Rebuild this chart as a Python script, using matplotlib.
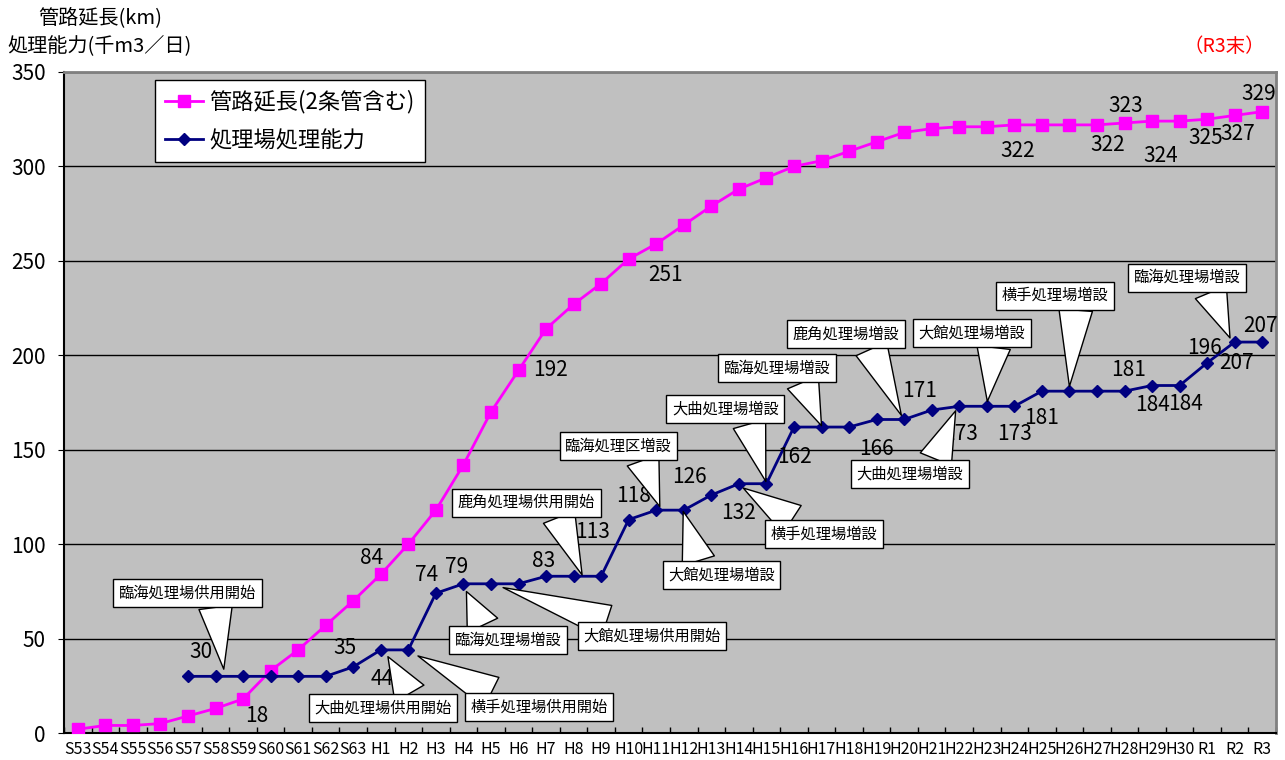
import numpy as np
import matplotlib
matplotlib.use('Agg')
import matplotlib.pyplot as plt

plt.rcParams['font.family'] = ['Noto Sans CJK JP', 'DejaVu Sans']

# 年度 (S53 ～ R3)
years = ['S53', 'S54', 'S55', 'S56', 'S57', 'S58', 'S59', 'S60', 'S61', 'S62', 'S63',
         'H1', 'H2', 'H3', 'H4', 'H5', 'H6', 'H7', 'H8', 'H9', 'H10',
         'H11', 'H12', 'H13', 'H14', 'H15', 'H16', 'H17', 'H18', 'H19', 'H20',
         'H21', 'H22', 'H23', 'H24', 'H25', 'H26', 'H27', 'H28', 'H29', 'H30',
         'R1', 'R2', 'R3']

# 管路延長 (km)
pipe_km = [2, 4, 4, 5, 9, 13, 18, 33, 44, 57, 70,
           84, 100, 118, 142, 170, 192, 214, 227, 238, 251,
           259, 269, 279, 288, 294, 300, 303, 308, 313, 318,
           320, 321, 321, 322, 322, 322, 322, 323, 324, 324,
           325, 327, 329]

# 処理場処理能力 (千m3/日)
capacity = [None, None, None, None, 30, 30, 30, 30, 30, 30, 35,
            44, 44, 74, 79, 79, 79, 83, 83, 83, 113,
            118, 118, 126, 132, 132, 162, 162, 162, 166, 166,
            171, 173, 173, 173, 181, 181, 181, 181, 184, 184,
            196, 207, 207]

# 数値ラベルを付ける年度と表示位置のずらし量 (px, 下向き正)
pipe_labels = {'S59': (14, 17), 'H1': (-9, -16), 'H6': (32, 0), 'H10': (37, 16),
               'H24': (3, 26), 'H27': (11, 20), 'H28': (1, -17), 'H29': (9, 35),
               'R1': (-1, 19), 'R2': (3, 19), 'R3': (-3, -18)}
cap_labels = {'S57': (13, -24), 'S63': (-8, -19), 'H1': (1, 29), 'H3': (-9, -18),
              'H4': (-7, -17), 'H7': (-2, -15), 'H10': (-36, 12), 'H11': (-23, -14),
              'H13': (-22, -18), 'H14': (0, 29), 'H16': (0, 30), 'H19': (0, 30),
              'H21': (-12, -19), 'H22': (1, 28), 'H24': (0, 28), 'H25': (0, 27),
              'H28': (4, -21), 'H29': (0, 19), 'H30': (6, 18), 'R1': (-3, -15),
              'R2': (2, 21), 'R3': (-2, -16)}

# 吹き出し: 文言, 吹き出し中心(x, y), 先端(x, y), 付け根位置
callouts = [
    ('臨海処理場供用開始', (3.98, 74.2), (5.30, 33.8), (0.70, 0)),
    ('大曲処理場供用開始', (11.07, 13.2), (11.26, 40.4), (0.72, 1)),
    ('横手処理場供用開始', (16.75, 13.8), (12.35, 40.8), (0.24, 1)),
    ('臨海処理場増設', (15.61, 49.3), (14.11, 74.9), (0.29, 1)),
    ('大館処理場供用開始', (20.86, 51.4), (15.44, 77.0), (0.30, 1)),
    ('鹿角処理場供用開始', (16.29, 122.0), (18.31, 83.7), (0.72, 0)),
    ('臨海処理区増設', (19.63, 152.1), (21.13, 119.9), (0.71, 0)),
    ('大館処理場増設', (23.37, 83.5), (21.98, 117.3), (0.30, 1)),
    ('大曲処理場増設', (23.51, 171.3), (24.98, 133.2), (0.71, 0)),
    ('横手処理場増設', (27.08, 105.3), (24.16, 129.7), (0.29, 1)),
    ('臨海処理場増設', (25.38, 193.4), (27.00, 162.7), (0.72, 0)),
    ('鹿角処理場増設', (27.90, 211.1), (29.90, 168.2), (0.71, 0)),
    ('大館処理場増設', (32.46, 211.8), (33.02, 175.6), (0.71, 0)),
    ('大曲処理場増設', (30.21, 137.3), (31.87, 170.6), (0.72, 1)),
    ('横手処理場増設', (35.47, 231.6), (36.00, 183.5), (0.70, 0)),
    ('臨海処理場増設', (40.27, 241.1), (41.83, 209.2), (0.70, 0)),
]

x = np.arange(len(years))
cap = np.array([np.nan if v is None else v for v in capacity], dtype=float)

fig = plt.figure(figsize=(12.85, 7.6), dpi=100)
ax = fig.add_axes([64 / 1285, 27 / 760, 1212 / 1285, 661 / 760])
ax.set_facecolor('#C0C0C0')

ax.plot(x, pipe_km, color='#FF00FF', lw=2, marker='s', ms=8, mec='#FF00FF',
        label='管路延長(2条管含む)', zorder=3)
ax.plot(x, cap, color='#000080', lw=2, marker='D', ms=6, mec='#000080',
        label='処理場処理能力', zorder=3)

for key, (dx, dy) in pipe_labels.items():
    i = years.index(key)
    ax.annotate(str(pipe_km[i]), (i, pipe_km[i]), xytext=(dx, -dy),
                textcoords='offset pixels', ha='center', va='center',
                fontsize=15, zorder=4)
for key, (dx, dy) in cap_labels.items():
    i = years.index(key)
    ax.annotate(str(int(cap[i])), (i, cap[i]), xytext=(dx, -dy),
                textcoords='offset pixels', ha='center', va='center',
                fontsize=15, zorder=4)

for text, box, tip, rel in callouts:
    ax.annotate(text, tip, xytext=box, textcoords='data',
                ha='center', va='center', fontsize=11, zorder=6,
                bbox=dict(boxstyle='square,pad=0.36', fc='white', ec='black', lw=1),
                arrowprops=dict(arrowstyle='wedge,tail_width=2.2,shrink_factor=0.5',
                                fc='white', ec='black', lw=1, relpos=rel,
                                shrinkA=0, shrinkB=0))

ax.set_xlim(-0.5, len(years) - 0.5)
ax.set_ylim(0, 350)
ax.set_yticks(range(0, 351, 50))
ax.set_xticks(x)
ax.set_xticklabels(years, fontsize=11.5)
ax.set_yticklabels([str(v) for v in range(0, 351, 50)], fontsize=15)
ax.set_xticks(np.arange(-0.5, len(years)), minor=True)
ax.tick_params(axis='x', which='major', length=0, pad=6)
ax.tick_params(axis='x', which='minor', direction='in', length=4, width=1)
ax.tick_params(axis='y', direction='out', length=4, pad=9)

ax.yaxis.grid(True, color='black', lw=1)
ax.set_axisbelow(True)
for side in ['top', 'right']:
    ax.spines[side].set_color('#808080')
    ax.spines[side].set_linewidth(2)
for side in ['left', 'bottom']:
    ax.spines[side].set_color('black')
    ax.spines[side].set_linewidth(1.5)

leg = ax.legend(loc='upper left', bbox_to_anchor=(0.075, 0.988), borderaxespad=0,
                fontsize=16, fancybox=False, edgecolor='black', framealpha=1,
                handlelength=1.7, handletextpad=0.3, labelspacing=0.7,
                borderpad=0.45)
leg.get_frame().set_linewidth(1)
leg.set_zorder(7)

fig.text(38 / 1285, 1 - 18 / 760, '管路延長(km)', fontsize=14.5, ha='left', va='center')
fig.text(7 / 1285, 1 - 46 / 760, '処理能力(千m3／日)', fontsize=14.5, ha='left', va='center')
fig.text(1224 / 1285, 1 - 47 / 760, '（R3末）', fontsize=14, color='red',
         ha='center', va='center')

fig.savefig('out.png', dpi=100)
